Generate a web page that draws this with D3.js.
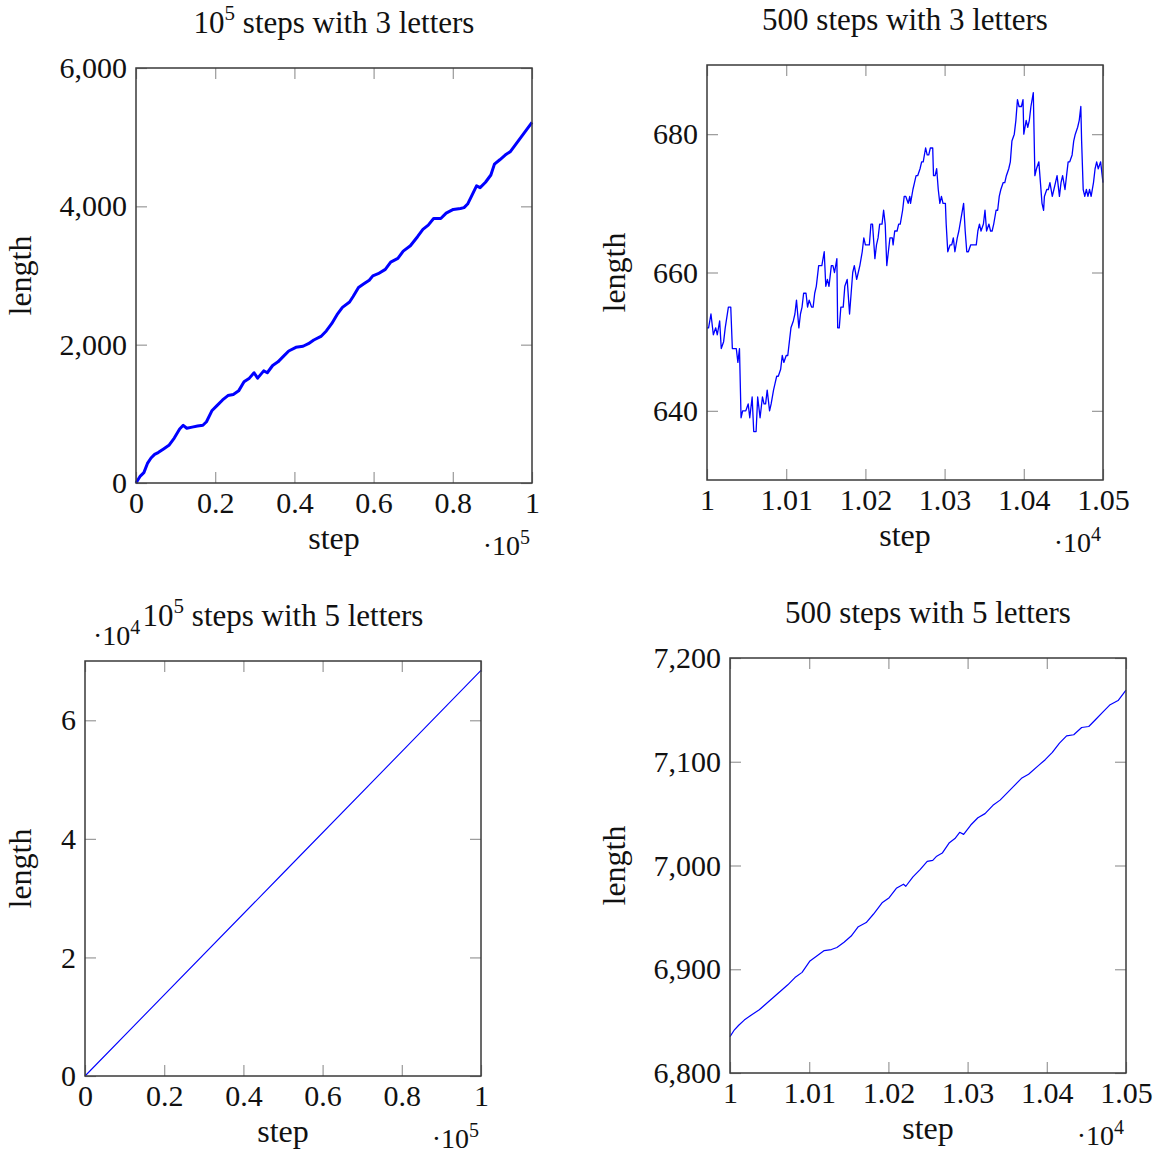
<!DOCTYPE html>
<html>
<head>
<meta charset="utf-8">
<script src="https://cdn.jsdelivr.net/npm/d3@7"></script>
<style>
  body { margin: 0; background: #fff; }
  text { font-family: "Liberation Serif", "DejaVu Serif", serif; fill: #111; }
</style>
</head>
<body>
<svg width="1156" height="1154"></svg>
<script>
// 10^5 steps with 3 letters
var steps3Long = [0, 1084, 1987, 2890, 3794, 4697, 5600, 6956, 8311, 9666, 11021, 11924, 12827, 14182,
  15537, 16892, 17796, 19151, 20506, 21861, 23216, 24571, 25926, 27281, 28636, 29810, 30714, 32249,
  33153, 34508, 35862, 37217, 38572, 40379, 42186, 43541, 44896, 46703, 48058, 49413, 50768, 52123,
  53930, 54833, 56188, 57543, 58898, 59801, 61156, 62963, 64318, 66125, 67480, 69286, 71093, 72448,
  73803, 75158, 76965, 78320, 80126, 81933, 82836, 83740, 84643, 85998, 86902, 88257, 89612, 90515,
  91870, 93225, 94580, 95935, 97290, 98645, 100000];
var length3Long = [0, 100, 150, 283, 362, 414, 440, 493, 545, 650, 781, 834, 792, 808,
  823, 834, 886, 1044, 1122, 1201, 1264, 1280, 1332, 1463, 1516, 1594, 1516, 1621,
  1594, 1699, 1752, 1830, 1909, 1962, 1977, 2014, 2067, 2119, 2198, 2303, 2434, 2539,
  2617, 2696, 2827, 2880, 2932, 2995, 3026, 3089, 3194, 3247, 3352, 3430, 3561, 3666,
  3729, 3824, 3824, 3902, 3955, 3970, 3981, 4033, 4138, 4296, 4270, 4348, 4453, 4610,
  4673, 4741, 4794, 4899, 5004, 5109, 5213];

// 500 steps with 3 letters (offset from step 10000)
var steps3Short = [0, 2, 5, 8, 11, 13, 16, 18, 21, 23, 27, 30, 32, 33, 37, 39, 41, 43, 45, 49, 52, 54, 57, 59,
  62, 64, 67, 70, 72, 74, 76, 79, 81, 84, 86, 88, 90, 93, 95, 97, 100, 102, 104, 106, 109, 111, 113,
  116, 118, 120, 122, 125, 127, 129, 132, 134, 136, 138, 141, 145, 148, 150, 152, 154, 157, 159, 161,
  164, 165, 167, 169, 172, 174, 177, 180, 182, 184, 186, 189, 191, 193, 196, 198, 200, 202, 205, 207,
  209, 212, 214, 216, 218, 221, 223, 225, 227, 229, 231, 234, 235, 237, 240, 242, 244, 247, 249, 251,
  254, 256, 257, 260, 262, 264, 266, 269, 271, 273, 276, 278, 280, 282, 285, 286, 288, 290, 292, 294,
  296, 298, 301, 302, 304, 307, 309, 311, 313, 316, 318, 321, 324, 326, 328, 330, 333, 335, 337, 340,
  342, 344, 346, 349, 351, 353, 356, 358, 360, 362, 365, 367, 369, 371, 374, 376, 378, 381, 383, 385,
  388, 390, 392, 394, 397, 399, 400, 403, 405, 407, 409, 412, 414, 416, 419, 421, 423, 425, 426, 429,
  431, 433, 436, 438, 440, 442, 445, 447, 449, 452, 454, 456, 458, 461, 463, 465, 468, 470, 472, 473,
  475, 477, 479, 481, 483, 485, 488, 490, 492, 494, 497, 500];
var length3Short = [652, 652, 654, 651, 652, 651, 653, 649, 650, 652, 655, 655, 649, 649, 649, 647, 649, 639, 640, 640, 641, 639, 642, 637,
  637, 642, 639, 642, 641, 641, 643, 640, 641, 643, 644, 645, 645, 646, 648, 647, 648, 648, 650, 652, 653, 654, 656,
  652, 654, 655, 657, 657, 655, 656, 655, 655, 657, 658, 661, 661, 663, 658, 659, 658, 661, 661, 660,
  662, 652, 652, 655, 655, 658, 659, 654, 657, 660, 661, 659, 660, 661, 663, 665, 664, 664, 664, 667,
  667, 662, 664, 665, 667, 667, 669, 667, 661, 663, 665, 665, 664, 666, 666, 667, 667, 669, 671, 671,
  670, 671, 670, 672, 673, 674, 674, 675, 676, 676, 678, 677, 677, 678, 678, 674, 674, 675, 672, 670,
  671, 670, 670, 667, 663, 664, 664, 665, 663, 665, 666, 668, 670, 666, 663, 663, 664, 664, 664, 664,
  666, 667, 666, 667, 669, 666, 667, 666, 666, 667, 669, 669, 671, 672, 673, 673, 674, 675, 676, 679,
  680, 682, 685, 684, 684, 685, 680, 682, 681, 682, 684, 686, 674, 675, 676, 673, 670, 669, 671, 672,
  672, 673, 671, 672, 673, 674, 671, 673, 674, 672, 674, 676, 676, 677, 679, 680, 681, 682, 684, 679,
  672, 671, 672, 671, 672, 671, 673, 675, 676, 675, 676, 673];

// 10^5 steps with 5 letters
var steps5Long = [0, 50000, 100000];
var length5Long = [0, 34200, 68400];

// 500 steps with 5 letters (offset from step 10000)
var steps5Short = [0, 5, 11, 18, 27, 37, 46, 55, 64, 73, 82, 91, 101, 110, 119, 128, 135, 144, 153, 162, 172,
  181, 192, 201, 210, 219, 222, 231, 240, 249, 256, 261, 268, 277, 284, 290, 295, 304, 313, 322, 332,
  341, 350, 359, 368, 377, 389, 398, 407, 416, 425, 434, 444, 453, 462, 471, 480, 490, 500];
var length5Short = [6835, 6841, 6846, 6851, 6856, 6861, 6867, 6873, 6879, 6885, 6892, 6897, 6908, 6913, 6918, 6919, 6921, 6926, 6932, 6941, 6945,
  6953, 6964, 6969, 6978, 6982, 6980, 6989, 6996, 7004, 7005, 7009, 7012, 7022, 7026, 7032, 7030, 7039, 7046, 7050, 7058,
  7063, 7070, 7077, 7084, 7088, 7096, 7102, 7109, 7118, 7125, 7126, 7133, 7134, 7141, 7148, 7155, 7159, 7169];

var W = 396, H = 415;
var svg = d3.select("svg");

function toPoints(xs, ys, base) {
  return xs.map(function(s, i) { return [s + base, ys[i]]; });
}

function drawPanel(p) {
  var g = svg.append("g").attr("transform", "translate(" + p.left + "," + p.top + ")");

  var x = d3.scaleLinear().domain(p.xDomain).range([0, W]);
  var y = d3.scaleLinear().domain(p.yDomain).range([H, 0]);

  // ticks on all four sides pointing inward
  var axes = [
    [d3.axisBottom(x).tickValues(p.xTicks).tickSize(-11).tickPadding(9).tickFormat(p.xFormat), "translate(0," + H + ")"],
    [d3.axisTop(x).tickValues(p.xTicks).tickSize(-11).tickFormat(""), "translate(0,0)"],
    [d3.axisLeft(y).tickValues(p.yTicks).tickSize(-11).tickPadding(9).tickFormat(p.yFormat), "translate(0,0)"],
    [d3.axisRight(y).tickValues(p.yTicks).tickSize(-11).tickFormat(""), "translate(" + W + ",0)"]
  ];
  axes.forEach(function(a) {
    var ax = g.append("g").attr("transform", a[1]).call(a[0]);
    ax.select(".domain").remove();
    ax.selectAll(".tick line").attr("stroke", "#999").attr("stroke-width", 1.2);
    ax.selectAll(".tick text").attr("font-family", "Liberation Serif").attr("font-size", 30).attr("fill", "#111");
  });

  var line = d3.line().x(function(d) { return x(d[0]); }).y(function(d) { return y(d[1]); });
  g.append("path")
    .datum(p.points)
    .attr("fill", "none")
    .attr("stroke", "#0000ff")
    .attr("stroke-width", p.lineWidth)
    .attr("stroke-linejoin", "round")
    .attr("d", line);

  g.append("rect")
    .attr("width", W).attr("height", H)
    .attr("fill", "none").attr("stroke", "#3a3a3a").attr("stroke-width", 1.5);

  // title
  var t = g.append("text").attr("x", W / 2).attr("y", -35).attr("text-anchor", "middle").attr("font-size", 31);
  if (p.titleSup) {
    t.append("tspan").text("10");
    t.append("tspan").attr("dy", -13).attr("font-size", 21).text("5");
    t.append("tspan").attr("dy", 13).text(" " + p.title);
  } else {
    t.text(p.title);
  }

  g.append("text").attr("x", W / 2).attr("y", H + 66).attr("text-anchor", "middle")
    .attr("font-size", 32).text("step");

  g.append("text").attr("transform", "translate(" + p.yLabelX + "," + (H / 2) + ") rotate(-90)")
    .attr("text-anchor", "middle").attr("font-size", 32).text("length");

  // x multiplier
  var m = g.append("text").attr("x", W - 2).attr("y", H + 72).attr("text-anchor", "end").attr("font-size", 28);
  m.append("tspan").text("\u00b710");
  m.append("tspan").attr("dy", -11).attr("font-size", 20).text(p.xExp);

  if (p.yExp) {
    var ym = g.append("text").attr("x", 8).attr("y", -16).attr("font-size", 28);
    ym.append("tspan").text("\u00b710");
    ym.append("tspan").attr("dy", -11).attr("font-size", 20).text(p.yExp);
  }
}

drawPanel({
  left: 136, top: 68, titleSup: true, title: "steps with 3 letters",
  xDomain: [0, 100000], yDomain: [0, 6000],
  xTicks: [0, 20000, 40000, 60000, 80000, 100000], yTicks: [0, 2000, 4000, 6000],
  xFormat: function(d) { return d3.format("~g")(d / 1e5); }, yFormat: d3.format(","),
  points: toPoints(steps3Long, length3Long, 0), lineWidth: 3,
  yLabelX: -105, xExp: "5"
});

drawPanel({
  left: 707, top: 65, titleSup: false, title: "500 steps with 3 letters",
  xDomain: [10000, 10500], yDomain: [630, 690],
  xTicks: [10000, 10100, 10200, 10300, 10400, 10500], yTicks: [640, 660, 680],
  xFormat: function(d) { return d3.format("~g")(d / 1e4); }, yFormat: d3.format(""),
  points: toPoints(steps3Short, length3Short, 10000), lineWidth: 1.3,
  yLabelX: -82, xExp: "4"
});

drawPanel({
  left: 85, top: 661, titleSup: true, title: "steps with 5 letters",
  xDomain: [0, 100000], yDomain: [0, 70000],
  xTicks: [0, 20000, 40000, 60000, 80000, 100000], yTicks: [0, 20000, 40000, 60000],
  xFormat: function(d) { return d3.format("~g")(d / 1e5); }, yFormat: function(d) { return d3.format("~g")(d / 1e4); },
  points: toPoints(steps5Long, length5Long, 0), lineWidth: 1.1,
  yLabelX: -54, xExp: "5", yExp: "4"
});

drawPanel({
  left: 730, top: 658, titleSup: false, title: "500 steps with 5 letters",
  xDomain: [10000, 10500], yDomain: [6800, 7200],
  xTicks: [10000, 10100, 10200, 10300, 10400, 10500], yTicks: [6800, 6900, 7000, 7100, 7200],
  xFormat: function(d) { return d3.format("~g")(d / 1e4); }, yFormat: d3.format(","),
  points: toPoints(steps5Short, length5Short, 10000), lineWidth: 1.2,
  yLabelX: -105, xExp: "4"
});
</script>
</body>
</html>
